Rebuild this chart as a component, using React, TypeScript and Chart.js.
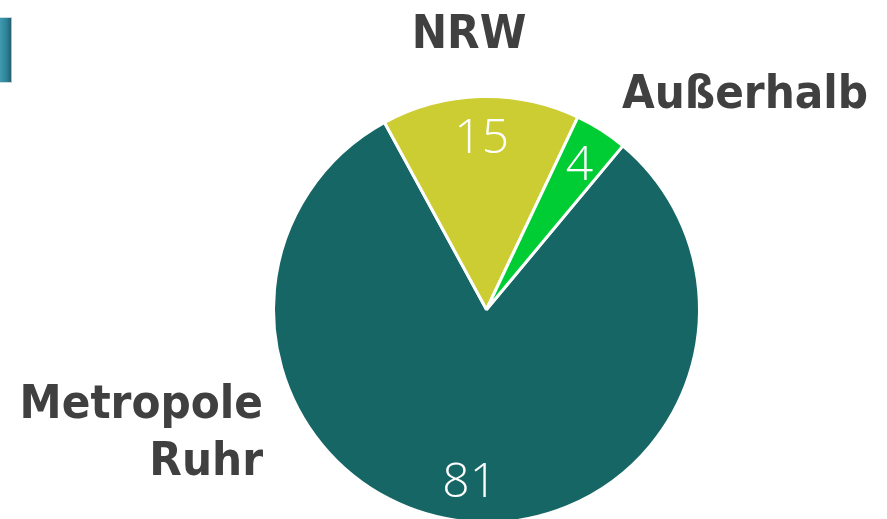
import React, { useEffect, useRef } from "react";
import { Chart, registerables } from "chart.js";

Chart.register(...registerables);

const categories = ["Metropole Ruhr", "NRW", "Außerhalb"];
const values = [81, 15, 4];
const sliceColors = ["#176666", "#CCCC33", "#00CC33"];
const outerLabelLines = [["Metropole", "Ruhr"], ["NRW"], ["Außerhalb"]];

const labelPlugin = {
  id: "sliceLabels",
  afterDatasetsDraw(chart: any) {
    const ctx = chart.ctx;
    const meta = chart.getDatasetMeta(0);
    ctx.save();
    // values inside slices
    ctx.fillStyle = "#ffffff";
    ctx.font = "300 48px 'Open Sans', 'Noto Sans', sans-serif";
    ctx.textAlign = "center";
    ctx.textBaseline = "middle";
    meta.data.forEach((arc: any, i: number) => {
      const { x, y, startAngle, endAngle, outerRadius } = arc.getProps(
        ["x", "y", "startAngle", "endAngle", "outerRadius"],
        true
      );
      const mid = (startAngle + endAngle) / 2;
      const r = outerRadius * 0.81;
      ctx.fillText(String(values[i]), x + Math.cos(mid) * r, y + Math.sin(mid) * r + 2);
    });
    // category labels
    ctx.fillStyle = "#404040";
    ctx.font = "bold 47px 'DejaVu Sans Condensed', 'DejaVu Sans', Verdana, sans-serif";
    ctx.textBaseline = "alphabetic";
    const spots = [
      { x: 263, y: 418, align: "right", lh: 57 },
      { x: 469, y: 48, align: "center", lh: 57 },
      { x: 745, y: 108, align: "center", lh: 57 },
    ];
    outerLabelLines.forEach((lines, i) => {
      const s = spots[i];
      ctx.textAlign = s.align;
      lines.forEach((ln, j) => ctx.fillText(ln, s.x, s.y + j * s.lh));
    });
    ctx.restore();
  },
};

export default function App() {
  const ref = useRef<HTMLCanvasElement>(null);
  useEffect(() => {
    document.body.style.margin = "0";
    const chart = new Chart(ref.current!, {
      type: "pie",
      data: {
        labels: categories,
        datasets: [
          {
            data: values,
            backgroundColor: sliceColors,
            borderColor: "#ffffff",
            borderWidth: 3,
          },
        ],
      },
      options: {
        responsive: false,
        animation: false,
        rotation: 39.8,
        layout: { padding: { left: 272, right: 186, top: 95, bottom: 36 } },
        plugins: {
          legend: { display: false },
          tooltip: { enabled: false },
        },
      },
      plugins: [labelPlugin],
    });
    return () => chart.destroy();
  }, []);
  return (
    <div style={{ position: "relative", width: 887, height: 519, overflow: "hidden", background: "#fff" }}>
      <div
        style={{
          position: "absolute",
          left: 0,
          top: 17,
          width: 11,
          height: 64,
          background: "linear-gradient(90deg, #3f9bb0 0%, #2f8196 60%, #245f70 100%)",
          borderRight: "1px solid #9fc7d2",
          borderTop: "1px solid #c8dde3",
          borderBottom: "1px solid #c8dde3",
        }}
      />
      <canvas ref={ref} width={887} height={560} style={{ display: "block" }} />
    </div>
  );
}
